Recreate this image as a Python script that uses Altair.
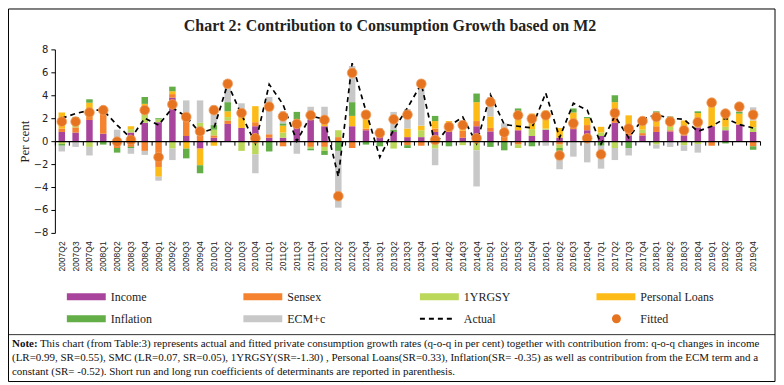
import altair as alt
import pandas as pd

quarters = [f"{y}Q{q}" for y in range(2007, 2020) for q in range(1, 5)][1:]

income = [0.8, 0.75, 1.85, 0.65, 0.0, 0.75, 1.6, 1.65, 3.8, 0.45,
          -0.65, 0.3, 1.5, 1.15, 1.3, 0.3, 0.3, 1.15, 1.85, 1.3,
          0.0, 1.3, 0.95, 0.35, 0.8, 0.35, 0.35, 0.8, 0.8, 0.3,
          1.3, 0.85, 0.0, 0.95, 0.45, 1.0, 0.3, 1.05, 0.95, 0.45,
          1.6, 0.5, 0.5, 0.8, 0.85, 0.5, 1.2, 1.3, 0.95, 1.45, 0.8]
sensex = [0.3, 0.45, 0.3, 1.75, -0.6, -0.5, -0.85, -2.25, 0.3, 1.55,
          0.5, 0.2, 0.3, 0.0, 0.35, 0.3, -0.45, 0.15, -0.5, -0.5,
          0.35, -0.6, 0.15, 0.15, 0.0, -0.35, -0.4, 0.3, 0.3, 0.6,
          0.45, 0.3, 0.4, -0.3, 0.0, 0.0, -0.3, 0.2, 0.45, 0.0,
          0.45, 0.3, 0.2, 0.5, 0.1, 0.15, 0.0, -0.4, 0.0, 0.0, -0.45]
yrgsy = [-0.25, 0.75, -0.5, 0.1, 0.0, 0.3, 0.8, 0.25, -0.65, 0.0,
         1.1, 0.5, 0.3, -0.85, -1.15, 0.0, 0.45, 0.0, -0.15, -0.35,
         0.6, 0.0, 0.0, 0.0, -0.65, 0.0, 0.6, -0.65, 0.0, -0.35,
         -0.8, 0.0, 0.0, -0.3, 0.6, 0.1, -0.3, 0.0, 0.0, 0.3,
         -0.6, 0.0, 0.3, -0.3, 0.3, -0.35, -0.25, 0.0, 0.3, 0.0, 0.4]
ploans = [1.4, 0.0, 1.2, 0.45, 0.3, 0.25, 0.85, -0.85, 0.25, -0.65,
          -1.45, -0.4, 0.5, 0.95, 1.4, 0.0, 0.6, 0.6, 0.0, 0.2,
          0.0, 0.9, 1.55, 0.2, 0.0, 0.75, 0.4, 0.65, 0.65, 0.8,
          1.65, 1.0, 0.0, 1.6, 1.35, 1.55, 0.85, 1.25, 0.6, 0.5,
          1.35, 1.45, 0.75, 0.45, 0.75, 1.15, 1.25, 2.4, 1.35, 0.95, 0.6]
inflation = [-0.15, 0.15, 0.3, -0.3, -0.4, -0.1, 0.6, 0.1, 0.4, -0.85,
             -0.7, 0.4, 0.8, 0.0, 0.0, -0.9, 0.2, 0.65, -0.15, -0.35,
             -0.85, 1.2, -0.3, -0.45, 0.2, -0.25, 0.0, 0.45, -0.45, 0.0,
             0.75, -0.5, -0.8, 0.3, -0.45, 0.0, -0.25, 0.35, 0.1, -0.4,
             0.6, -0.6, 0.0, 0.85, 0.15, 0.0, 0.15, 0.0, -0.2, 0.15, -0.3]
ecm = [-0.5, -0.5, -0.75, 0.0, 0.7, -0.5, -0.35, -0.35, -1.0, 1.55,
       1.95, 1.7, 1.6, 1.2, -1.65, 3.25, 1.05, -1.1, 1.15, 1.5,
       -4.95, 3.15, 0.0, 0.45, 1.55, 1.7, 4.0, -1.45, 0.0, 0.0,
       -3.15, 1.7, 1.15, 0.0, 0.0, -0.4, -1.6, -1.35, -1.85, -2.0,
       -1.05, -0.65, 0.0, -0.35, -0.5, -0.5, -0.75, 0.0, 0.0, 0.45, 1.15]
fitted = [1.7, 1.7, 2.5, 2.7, -0.05, 0.1, 2.7, -1.4, 3.2, 2.1,
          0.85, 2.7, 5.0, 2.45, 0.25, 3.0, 2.15, 1.5, 2.25, 1.85,
          -4.8, 5.95, 2.3, 0.7, 1.9, 2.3, 5.0, 0.1, 1.25, 1.4,
          0.25, 3.4, 0.75, 2.25, 1.95, 2.25, -1.25, 1.55, 0.25, -1.15,
          2.45, 1.1, 1.75, 2.1, 1.7, 0.95, 1.65, 3.35, 2.4, 3.0, 2.3]
actual = [2.0, 2.4, 2.7, 2.7, 1.4, 0.25, 2.0, 1.4, 2.9, 2.15,
          0.7, 1.1, 5.0, 2.3, -0.2, 4.95, 3.2, 0.0, 2.2, 1.9,
          -3.1, 6.8, 2.6, -1.4, 1.0, 2.9, 5.0, -0.3, 1.3, 2.1,
          -0.2, 4.05, 1.45, 1.3, 1.15, 4.2, 0.3, 3.3, 2.7, -0.25,
          2.2, 0.3, 1.9, 2.3, 2.0, 1.9, 0.85, 1.3, 2.0, 1.45, 1.15]

series_names = ["Income", "Sensex", "1YRGSY", "Personal Loans", "Inflation", "ECM+c"]
legend_names = series_names + ["Actual", "Fitted"]
colors = ["#A9449C", "#F4822F", "#BBD85A", "#FDBB17", "#63AE47", "#C8C8C8", "#000000", "#E5731F"]

series_values = [income, sensex, yrgsy, ploans, inflation, ecm]
rows = []
for k, (name, vals) in enumerate(zip(series_names, series_values)):
    for q, v in zip(quarters, vals):
        rows.append({"quarter": q, "series": name, "value": v, "order": k})
long_df = pd.DataFrame(rows)
wide_df = pd.DataFrame({"quarter": quarters, "actual": actual, "fitted": fitted})
legend_df = pd.DataFrame({"series": legend_names})

title_text = "Chart 2: Contribution to Consumption Growth based on M2"
note_lines = [
    "This chart (from Table:3) represents actual and fitted private consumption growth rates (q-o-q in per cent) together with contribution from: q-o-q changes in income",
    "(LR=0.99, SR=0.55), SMC (LR=0.07, SR=0.05), 1YRGSY(SR=-1.30) , Personal Loans(SR=0.33), Inflation(SR= -0.35) as well as contribution from the ECM term and a",
    "constant (SR= -0.52).  Short run and long run coefficients of determinants are reported in parenthesis.",
]

W, H = 707, 184
SERIF = "Liberation Serif"

rect_path = "M-1,-0.7H6.8V0.7H-1Z"
dash_path = "M-1,-0.2H0V0.2H-1Z M0.8,-0.2H1.8V0.2H0.8Z M2.6,-0.2H3.6V0.2H2.6Z M4.4,-0.2H5.4V0.2H4.4Z"
circ_path = "M3.9,0A0.9,0.9,0,1,1,2.1,0A0.9,0.9,0,1,1,3.9,0Z"
shapes = [rect_path] * 6 + [dash_path, circ_path]

y_axis = alt.Axis(values=list(range(-8, 9, 2)), title="Per cent", grid=False,
                  labelFont="DejaVu Sans", labelFontSize=10, labelColor="#222",
                  titleFont=SERIF, titleFontSize=13, titleFontWeight="normal",
                  titleColor="#222", titlePadding=2, domainColor="black",
                  tickColor="black", tickSize=4, labelPadding=3)
y_scale = alt.Scale(domain=[-8, 8], nice=False)
x_scale = alt.Scale(paddingInner=0, paddingOuter=0)
color_scale = alt.Scale(domain=legend_names, range=colors)

legend = alt.Legend(orient="none", legendX=11, legendY=242, columns=4, direction="horizontal",
                    title=None, symbolSize=100, symbolStrokeWidth=0, symbolOpacity=1,
                    labelFont=SERIF, labelFontSize=12, labelColor="#222",
                    labelOffset=33, gridAlign="all", columnPadding=58, rowPadding=10)

bars = alt.Chart(long_df).mark_bar(size=6.5).encode(
    x=alt.X("quarter:N", sort=quarters, scale=x_scale,
            axis=alt.Axis(orient="bottom", labelAngle=-90, domain=False, ticks=False,
                          tickSize=0, labelPadding=8, labelFont="Liberation Sans",
                          labelFontSize=8.5, labelColor="#222", title=None)),
    y=alt.Y("value:Q", stack="zero", scale=y_scale, axis=y_axis),
    color=alt.Color("series:N", scale=color_scale, legend=legend),
    order=alt.Order("order:Q", sort="ascending"),
)

line = alt.Chart(wide_df).mark_line(color="black", strokeDash=[5, 4], strokeWidth=1.7,
                                    interpolate="linear").encode(
    x=alt.X("quarter:N", sort=quarters,
            axis=alt.Axis(orient="bottom", offset=-H / 2, labels=False, domain=True, ticks=True,
                          tickBand="extent", tickSize=4, domainColor="black", tickColor="black",
                          domainWidth=1.2, title=None, zindex=1)),
    y=alt.Y("actual:Q", scale=y_scale, axis=y_axis),
)

points = alt.Chart(wide_df).mark_circle(size=95, color="#E5731F", opacity=1,
                                        stroke="#F0A060", strokeWidth=0.8).encode(
    x=alt.X("quarter:N", sort=quarters, axis=None),
    y=alt.Y("fitted:Q", scale=y_scale, axis=y_axis),
)

legend_layer = alt.Chart(legend_df).mark_point(filled=True, size=100, strokeWidth=0,
                                               opacity=1, clip=True).encode(
    x=alt.value(10), y=alt.value(-500),
    color=alt.Color("series:N", scale=color_scale, legend=legend),
    shape=alt.Shape("series:N", scale=alt.Scale(domain=legend_names, range=shapes), legend=legend),
)

one = pd.DataFrame({"a": [0]})
frame = alt.Chart(one).mark_rect(fillOpacity=0, stroke="black", strokeWidth=1).encode(
    x=alt.value(-46.5), x2=alt.value(722), y=alt.value(-40.5), y2=alt.value(333))
sep = alt.Chart(one).mark_rule(color="black", strokeWidth=0.8).encode(
    x=alt.value(-46.5), x2=alt.value(722), y=alt.value(286))

title_layer = alt.Chart(one).mark_text(align="center", baseline="middle", font=SERIF,
                                       fontSize=16, fontWeight="bold", color="#222",
                                       text=title_text).encode(
    x=alt.value(336), y=alt.value(-23))

NOTE_FS = 11
note_layers = [
    alt.Chart(one).mark_text(align="left", baseline="middle", font=SERIF, fontSize=NOTE_FS,
                             fontWeight="bold", color="#111", text="Note:").encode(
        x=alt.value(-43), y=alt.value(295)),
    alt.Chart(one).mark_text(align="left", baseline="middle", font=SERIF, fontSize=NOTE_FS,
                             color="#111", text=note_lines[0]).encode(
        x=alt.value(-15), y=alt.value(295)),
    alt.Chart(one).mark_text(align="left", baseline="middle", font=SERIF, fontSize=NOTE_FS,
                             color="#111", text=note_lines[1]).encode(
        x=alt.value(-43), y=alt.value(309)),
    alt.Chart(one).mark_text(align="left", baseline="middle", font=SERIF, fontSize=NOTE_FS,
                             color="#111", text=note_lines[2]).encode(
        x=alt.value(-43), y=alt.value(323)),
]

chart = alt.layer(bars, line, points, legend_layer, frame, sep, title_layer,
                  *note_layers).resolve_axis(
    x="independent"
).properties(
    width=W, height=H,
    padding={"left": 47, "top": 41, "right": 16, "bottom": 152},
    autosize=alt.AutoSizeParams(type="none"),
).configure_view(stroke=None)

chart.save("out.html", embed_options={"renderer": "svg", "actions": False})
